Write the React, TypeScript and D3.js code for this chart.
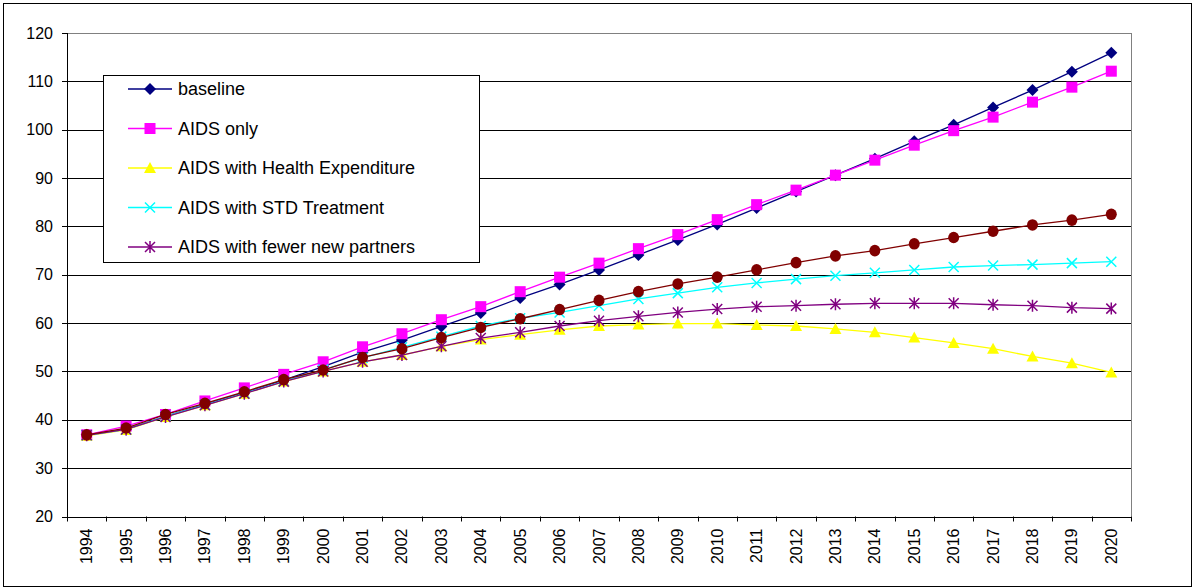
import React from "react";
import * as d3 from "d3";

const years = ["1994","1995","1996","1997","1998","1999","2000","2001","2002","2003","2004","2005","2006","2007","2008","2009","2010","2011","2012","2013","2014","2015","2016","2017","2018","2019","2020"];
const yTicks = [20, 30, 40, 50, 60, 70, 80, 90, 100, 110, 120];

const baseline = [36.9, 38.0, 40.7, 43.2, 45.6, 48.2, 51.0, 54.0, 56.5, 59.3, 62.1, 65.2, 68.0, 71.0, 74.1, 77.2, 80.4, 83.8, 87.2, 90.6, 94.0, 97.6, 101.0, 104.6, 108.2, 112.0, 115.9];
const aidsOnly = [36.9, 38.7, 41.1, 43.9, 46.6, 49.4, 52.0, 55.1, 57.8, 60.7, 63.4, 66.5, 69.5, 72.4, 75.4, 78.3, 81.4, 84.5, 87.5, 90.6, 93.7, 96.8, 99.8, 102.6, 105.7, 108.8, 112.1];
const healthExp = [36.7, 37.9, 40.6, 43.0, 45.4, 47.9, 50.0, 52.0, 53.4, 55.2, 56.6, 57.6, 58.6, 59.4, 59.7, 59.9, 59.9, 59.6, 59.4, 58.8, 58.1, 57.0, 55.9, 54.7, 53.1, 51.7, 49.8];
const stdTreatment = [36.8, 38.0, 40.7, 43.1, 45.5, 48.0, 50.4, 52.8, 55.0, 57.2, 59.4, 61.0, 62.2, 63.6, 65.0, 66.2, 67.4, 68.3, 69.1, 69.8, 70.4, 71.0, 71.6, 71.9, 72.1, 72.4, 72.7];
const fewerPartners = [36.8, 38.0, 40.6, 43.0, 45.4, 47.9, 50.0, 52.0, 53.4, 55.2, 56.9, 58.1, 59.4, 60.5, 61.4, 62.2, 62.9, 63.4, 63.6, 63.9, 64.1, 64.1, 64.1, 63.8, 63.6, 63.2, 63.0];
const combined = [36.9, 38.3, 41.1, 43.4, 45.8, 48.3, 50.3, 52.9, 54.7, 57.0, 59.1, 60.9, 62.8, 64.7, 66.5, 68.1, 69.5, 71.0, 72.5, 73.9, 75.0, 76.4, 77.7, 79.0, 80.3, 81.3, 82.5];

type Marker = "diamond" | "square" | "triangle" | "x" | "star" | "circle";
const series: { name: string | null; values: number[]; color: string; marker: Marker }[] = [
  { name: "baseline", values: baseline, color: "#000080", marker: "diamond" },
  { name: "AIDS only", values: aidsOnly, color: "#FF00FF", marker: "square" },
  { name: "AIDS with Health Expenditure", values: healthExp, color: "#FFFF00", marker: "triangle" },
  { name: "AIDS with STD Treatment", values: stdTreatment, color: "#00FFFF", marker: "x" },
  { name: "AIDS with fewer new partners", values: fewerPartners, color: "#800080", marker: "star" },
  { name: null, values: combined, color: "#800000", marker: "circle" },
];

function MarkerShape({ type, x, y, color }: { type: Marker; x: number; y: number; color: string }) {
  switch (type) {
    case "diamond":
      return <path d={`M${x},${y - 6}L${x + 6},${y}L${x},${y + 6}L${x - 6},${y}Z`} fill={color} />;
    case "square":
      return <rect x={x - 5.5} y={y - 5.5} width={11} height={11} fill={color} />;
    case "triangle":
      return <path d={`M${x},${y - 6}L${x + 6},${y + 5}L${x - 6},${y + 5}Z`} fill={color} />;
    case "x":
      return <path d={`M${x - 5},${y - 5}L${x + 5},${y + 5}M${x - 5},${y + 5}L${x + 5},${y - 5}`} stroke={color} strokeWidth={1.5} fill="none" />;
    case "star":
      return <path d={`M${x - 5},${y - 5}L${x + 5},${y + 5}M${x - 5},${y + 5}L${x + 5},${y - 5}M${x},${y - 6}L${x},${y + 6}`} stroke={color} strokeWidth={1.5} fill="none" />;
    case "circle":
      return <ellipse cx={x} cy={y} rx={5.5} ry={5.8} fill={color} />;
  }
}

export default function App() {
  const W = 1194, H = 587;
  const left = 67, right = 1131, top = 33, bottom = 516.5;
  const x = d3.scaleBand<string>().domain(years).range([left, right]).padding(0);
  const y = d3.scaleLinear().domain([20, 120]).range([bottom, top]);
  const cx = (yr: string) => (x(yr) as number) + x.bandwidth() / 2;
  const line = d3.line<number>().x((_, i) => cx(years[i])).y((v) => y(v));
  const font = "'Liberation Sans', Arial, sans-serif";

  const legendX = 103.5, legendY = 75.5, legendW = 376, legendH = 187;
  const legendItems = series.filter((s) => s.name);

  return (
    <svg width={W} height={H} style={{ position: "absolute", left: 0, top: 0, background: "#fff" }} fontFamily={font}>
      <rect x={3.5} y={3.5} width={1188} height={583} fill="#fff" stroke="#000" strokeWidth={1} />
      {/* gridlines */}
      {yTicks.map((t) => (
        <line key={t} x1={left} x2={right} y1={Math.round(y(t)) + 0.5} y2={Math.round(y(t)) + 0.5} stroke={t === 120 ? "#808080" : "#000"} strokeWidth={1} />
      ))}
      <line x1={right + 0.5} x2={right + 0.5} y1={top} y2={bottom} stroke="#808080" />
      {/* y axis */}
      <line x1={left + 0.5} x2={left + 0.5} y1={top} y2={bottom + 0.5} stroke="#000" />
      {yTicks.map((t) => (
        <g key={"yt" + t}>
          <line x1={left - 5} x2={left} y1={Math.round(y(t)) + 0.5} y2={Math.round(y(t)) + 0.5} stroke="#000" />
          <text x={53} y={y(t)} dy="0.35em" textAnchor="end" fontSize={16} fill="#000">{t}</text>
        </g>
      ))}
      {/* x axis */}
      <line x1={left} x2={right} y1={Math.round(bottom) + 0.5} y2={Math.round(bottom) + 0.5} stroke="#000" />
      {years.map((yr) => (
        <line key={"xt" + yr} x1={Math.round(x(yr) as number) + 0.5} x2={Math.round(x(yr) as number) + 0.5} y1={bottom} y2={bottom + 5} stroke="#000" />
      ))}
      <line x1={right + 0.5} x2={right + 0.5} y1={bottom} y2={bottom + 5} stroke="#000" />
      {years.map((yr) => (
        <text key={"xl" + yr} transform={`translate(${cx(yr) + 5.5},${bottom + 12}) rotate(-90)`} textAnchor="end" fontSize={16} fill="#000">{yr}</text>
      ))}
      {/* series */}
      {series.map((s, si) => (
        <g key={"s" + si}>
          <path d={line(s.values) as string} fill="none" stroke={s.color} strokeWidth={1.3} />
          {s.values.map((v, i) => (
            <MarkerShape key={i} type={s.marker} x={cx(years[i])} y={y(v)} color={s.color} />
          ))}
        </g>
      ))}
      {/* legend */}
      <rect x={legendX} y={legendY} width={legendW} height={legendH} fill="#fff" stroke="#000" />
      {legendItems.map((s, i) => {
        const ly = 89 + i * 39.5;
        return (
          <g key={"lg" + i}>
            <line x1={128} x2={172} y1={ly} y2={ly} stroke={s.color} strokeWidth={1.3} />
            <MarkerShape type={s.marker} x={150} y={ly} color={s.color} />
            <text x={178} y={ly} dy="0.35em" fontSize={18} fill="#000">{s.name}</text>
          </g>
        );
      })}
    </svg>
  );
}
